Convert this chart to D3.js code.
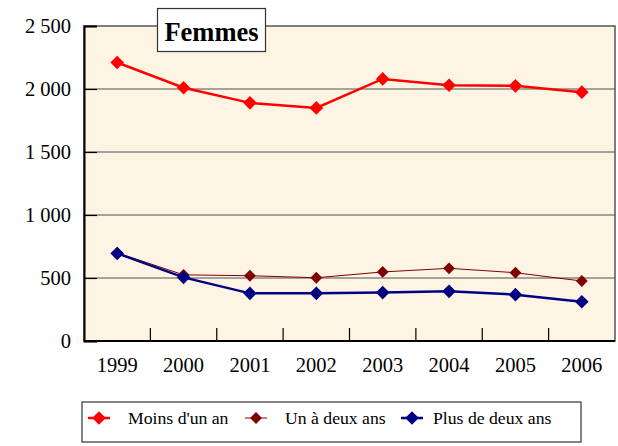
<!DOCTYPE html>
<html>
<head>
<meta charset="utf-8">
<script src="https://cdn.jsdelivr.net/npm/d3@7"></script>
<style>
  body { margin: 0; background: #fff; }
</style>
</head>
<body>
<svg id="chart" width="618" height="446"></svg>
<script>
// Data
const years = ["1999", "2000", "2001", "2002", "2003", "2004", "2005", "2006"];
const moinsUnAn = [2210, 2010, 1890, 1850, 2080, 2030, 2025, 1975];
const unADeuxAns = [700, 525, 518, 502, 548, 577, 542, 476];
const plusDeDeuxAns = [695, 505, 378, 378, 384, 394, 368, 312];
const yTicks = [0, 500, 1000, 1500, 2000, 2500];

const series = [
  { name: "Moins d'un an", values: moinsUnAn, color: "#ff0000", width: 2.5, size: 6.8 },
  { name: "Un à deux ans", values: unADeuxAns, color: "#800000", width: 1, size: 5.9 },
  { name: "Plus de deux ans", values: plusDeDeuxAns, color: "#000080", width: 2.5, size: 6.8 }
];

const FONT = "'Liberation Serif', 'Times New Roman', serif";

const svg = d3.select("#chart").style("font-family", FONT);
const margin = { left: 84, right: 3, top: 26, bottom: 105 };
const width = 618 - margin.left - margin.right;
const height = 446 - margin.top - margin.bottom;

const x = d3.scaleBand().domain(years).range([0, width]);
const y = d3.scaleLinear().domain([0, 2500]).range([height, 0]);

const g = svg.append("g").attr("transform", `translate(${margin.left},${margin.top})`);

// Plot background
g.append("rect")
  .attr("width", width)
  .attr("height", height)
  .attr("fill", "#fdf4e4")
  .attr("stroke", "#555")
  .attr("stroke-width", 1.5);

// Gridlines
g.selectAll(".grid")
  .data(yTicks.filter(d => d > 0 && d < 2500))
  .enter()
  .append("line")
  .attr("x1", 0)
  .attr("x2", width)
  .attr("y1", d => y(d))
  .attr("y2", d => y(d))
  .attr("stroke", "#505050")
  .attr("stroke-width", 1);

// Y axis (inward ticks)
const yAxis = g.append("g")
  .call(d3.axisLeft(y).tickValues(yTicks).tickSize(-13).tickPadding(13)
    .tickFormat(d => d3.format(",")(d).replace(",", " ")));
yAxis.attr("font-family", null);
yAxis.select(".domain").attr("stroke", "#000").attr("stroke-width", 2);
yAxis.selectAll(".tick line").attr("stroke", "#000").attr("stroke-width", 1.2);
yAxis.selectAll("text").attr("font-size", 20.5).attr("fill", "#000").style("font-family", FONT);

// X axis: ticks between categories, pointing inward
const xAxisG = g.append("g").attr("transform", `translate(0,${height})`);
xAxisG.append("line")
  .attr("x1", 0).attr("x2", width)
  .attr("stroke", "#000").attr("stroke-width", 2);
xAxisG.selectAll(".xtick")
  .data(years.slice(1))
  .enter()
  .append("line")
  .attr("x1", d => x(d))
  .attr("x2", d => x(d))
  .attr("y1", 0)
  .attr("y2", -13)
  .attr("stroke", "#000")
  .attr("stroke-width", 1.2);
xAxisG.selectAll(".xlabel")
  .data(years)
  .enter()
  .append("text")
  .attr("x", d => x(d) + x.bandwidth() / 2)
  .attr("y", 31)
  .attr("text-anchor", "middle")
  .style("font-family", FONT)
  .attr("font-size", 20.5)
  .text(d => d);

// Lines and markers
const line = d3.line()
  .x((d, i) => x(years[i]) + x.bandwidth() / 2)
  .y(d => y(d));

const diamond = s => `M0,${-s}L${s},0L0,${s}L${-s},0Z`;

[series[1], series[2], series[0]].forEach(s => {
  g.append("path")
    .datum(s.values)
    .attr("fill", "none")
    .attr("stroke", s.color)
    .attr("stroke-width", s.width)
    .attr("d", line);
  g.selectAll(null)
    .data(s.values)
    .enter()
    .append("path")
    .attr("transform", (d, i) => `translate(${x(years[i]) + x.bandwidth() / 2},${y(d)})`)
    .attr("d", diamond(s.size))
    .attr("fill", s.color);
});

// Title box
const title = svg.append("g");
title.append("rect")
  .attr("x", 157.5).attr("y", 8.5)
  .attr("width", 108).attr("height", 43)
  .attr("fill", "#fff")
  .attr("stroke", "#333")
  .attr("stroke-width", 1.2);
title.append("text")
  .attr("x", 211.5).attr("y", 41)
  .attr("text-anchor", "middle")
  .style("font-family", FONT)
  .attr("font-size", 26.5)
  .attr("font-weight", "bold")
  .text("Femmes");

// Legend
const legend = svg.append("g");
legend.append("rect")
  .attr("x", 82).attr("y", 402)
  .attr("width", 499).attr("height", 40)
  .attr("fill", "#fff")
  .attr("stroke", "#333")
  .attr("stroke-width", 1.2);
const legendX = [99, 256, 412];
series.forEach((s, i) => {
  const item = legend.append("g").attr("transform", `translate(${legendX[i]},418)`);
  item.append("line")
    .attr("x1", -11).attr("x2", 11)
    .attr("stroke", s.color)
    .attr("stroke-width", s.width);
  item.append("path")
    .attr("d", diamond(s.size))
    .attr("fill", s.color);
  item.append("text")
    .attr("x", i === 2 ? 21 : 29)
    .attr("y", 6)
    .style("font-family", FONT)
    .attr("font-size", 17.7)
    .text(s.name);
});
</script>
</body>
</html>
